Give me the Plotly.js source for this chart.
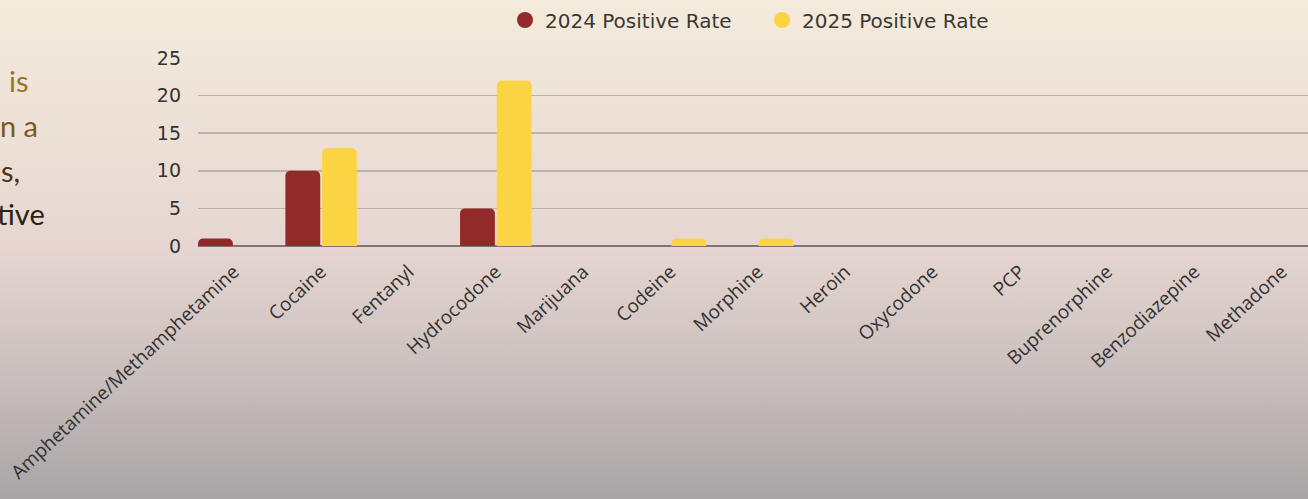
<!DOCTYPE html>
<html>
<head>
<meta charset="utf-8">
<script src="https://cdn.plot.ly/plotly-3.0.1.min.js"></script>
<style>
  html, body { margin:0; padding:0; width:1308px; height:499px; overflow:hidden;
    background: linear-gradient(to bottom, #f4ebdc 0%, #ecdfd6 30%, #e6d5d0 50%, #cdc2c0 72%, #a9a5a6 100%); }
  #chart { width:1308px; height:499px; }
</style>
</head>
<body>
<div id="chart"></div>
<script>
const categories = ["Amphetamine/Methamphetamine","Cocaine","Fentanyl","Hydrocodone","Marijuana","Codeine","Morphine","Heroin","Oxycodone","PCP","Buprenorphine","Benzodiazepine","Methadone"];
const rate2024 = [1,10,0,5,0,0,0,0,0,0,0,0,0];
const rate2025 = [0,13,0,22,0,1,1,0,0,0,0,0,0];
const seriesNames = ["2024 Positive Rate","2025 Positive Rate"];
const seriesColors = ["#922a2a","#fbd443"];
const yTicks = [0,5,10,15,20,25];
const sideText = ["is","n a","s,","tive"];
const sideColors = ["#9b7526","#7b5a1c","#4a3516","#2c2211"];

const plotLeft = 198, plotWidth = 1110;
const traces = [
  {type:"bar", x:categories, y:rate2024, name:seriesNames[0], marker:{color:seriesColors[0], cornerradius:5}, showlegend:false, hoverinfo:"x+y"},
  {type:"bar", x:categories, y:rate2025, name:seriesNames[1], marker:{color:seriesColors[1], cornerradius:5}, showlegend:false, hoverinfo:"x+y"},
  {type:"scatter", mode:"markers", x:[null], y:[null], name:seriesNames[0], marker:{color:seriesColors[0], size:22, symbol:"circle"}},
  {type:"scatter", mode:"markers", x:[null], y:[null], name:seriesNames[1], marker:{color:seriesColors[1], size:22, symbol:"circle"}}
];

const sideX = [31, 40, 22, 47];
const sideY = [80, 125, 170, 213];
const annotations = sideText.map((t,i)=>({
  xref:"paper", yref:"paper",
  x:(sideX[i]-plotLeft)/plotWidth, y:(246-sideY[i])/188,
  xanchor:"right", yanchor:"middle", showarrow:false, text:t,
  font:{family:"Lato, 'Open Sans', sans-serif", size:29, color:sideColors[i]}
}));

const layout = {
  width:1308, height:499,
  margin:{l:plotLeft, r:0, t:58, b:253},
  paper_bgcolor:"rgba(0,0,0,0)", plot_bgcolor:"rgba(0,0,0,0)",
  barmode:"group", bargap:0.16, bargroupgap:0.05,
  font:{family:"'Open Sans', sans-serif", color:"#333"},
  xaxis:{type:"category", range:[-0.41, 12.3], tickangle:-43, tickfont:{size:19, color:"#333"},
    showgrid:false, zeroline:false, showline:false, ticks:"", fixedrange:true, automargin:false, ticklabelstandoff:10},
  yaxis:{range:[0,25], tickvals:yTicks, tickfont:{family:"'DejaVu Sans', sans-serif", size:19, color:"#333"}, gridcolor:"#bcb1ab", gridwidth:1.5,
    zeroline:true, zerolinecolor:"#7d7674", zerolinewidth:1.5, showline:false, ticks:"", ticklabelstandoff:16, automargin:false},
  legend:{orientation:"h", x:(505-plotLeft)/plotWidth, xanchor:"left", y:(246-20)/188, yanchor:"middle",
    font:{family:"'DejaVu Sans', sans-serif", size:20, color:"#3a3836"}, bgcolor:"rgba(0,0,0,0)", itemwidth:30,
    entrywidth:212, entrywidthmode:"pixels"},
  annotations:annotations,
  showlegend:true
};
Plotly.newPlot("chart", traces, layout, {displayModeBar:false, staticPlot:true});
</script>
</body>
</html>
